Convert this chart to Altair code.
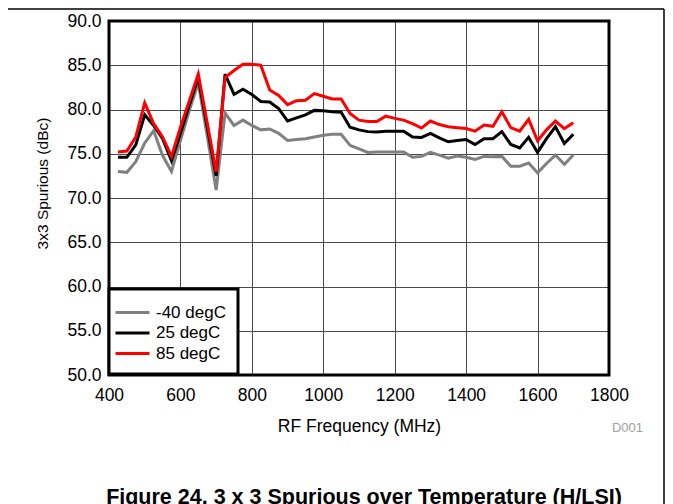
import altair as alt
import pandas as pd

# ---- data ----
freq = [425, 450, 475, 500, 525, 550, 575, 600, 625, 650, 675, 700, 725, 750, 775, 800,
        825, 850, 875, 900, 925, 950, 975, 1000, 1025, 1050, 1075, 1100, 1125, 1150, 1175,
        1200, 1225, 1250, 1275, 1300, 1325, 1350, 1375, 1400, 1425, 1450, 1475, 1500, 1525,
        1550, 1575, 1600, 1625, 1650, 1675, 1700]

t_m40 = [73.0, 72.9, 74.1, 76.2, 77.6, 74.8, 73.0, 76.5, 79.9, 83.0, 77.0, 70.9, 79.6, 78.2,
         78.8, 78.2, 77.7, 77.8, 77.3, 76.5, 76.6, 76.7, 76.9, 77.1, 77.2, 77.2, 75.95, 75.55,
         75.15, 75.2, 75.2, 75.2, 75.2, 74.6, 74.7, 75.15, 74.85, 74.5, 74.75, 74.6, 74.35,
         74.7, 74.65, 74.7, 73.6, 73.6, 73.95, 72.85, 73.9, 74.85, 73.8, 74.85]

t_25 = [74.6, 74.6, 76.0, 79.4, 78.2, 76.7, 74.2, 77.3, 80.5, 83.6, 78.0, 72.5, 84.0, 81.7,
        82.3, 81.7, 80.9, 80.85, 80.1, 78.7, 79.05, 79.4, 79.9, 79.85, 79.75, 79.7, 78.0, 77.7,
        77.5, 77.45, 77.55, 77.55, 77.55, 76.9, 76.85, 77.3, 76.8, 76.35, 76.5, 76.6, 76.05,
        76.7, 76.7, 77.5, 76.05, 75.65, 76.85, 75.15, 76.7, 78.05, 76.15, 77.2]

t_85 = [75.2, 75.3, 76.9, 80.75, 78.4, 76.9, 74.7, 78.0, 81.0, 84.0, 78.5, 72.95, 83.6, 84.4,
        85.1, 85.1, 85.0, 82.2, 81.6, 80.55, 81.0, 81.05, 81.8, 81.5, 81.2, 81.2, 79.55, 78.8,
        78.65, 78.65, 79.25, 79.0, 78.8, 78.4, 77.9, 78.7, 78.3, 78.05, 77.95, 77.85, 77.55,
        78.25, 78.1, 79.75, 77.95, 77.55, 78.9, 76.45, 77.7, 78.7, 77.85, 78.5]

series_names = ["-40 degC", "25 degC", "85 degC"]
series_colors = ["#808080", "#000000", "#ff0000"]
x_ticks = list(range(400, 1801, 100))
y_ticks = list(range(50, 91, 5))
x_title = "RF Frequency (MHz)"
y_title = "3x3 Spurious (dBc)"
caption = "Figure 24. 3 x 3 Spurious over Temperature (H/LSI)"
code_label = "D001"

rows = []
for name, vals in zip(series_names, [t_m40, t_25, t_85]):
    for f, v in zip(freq, vals):
        rows.append({"freq": f, "val": v, "series": name})
df = pd.DataFrame(rows)

FONT = "Liberation Sans"
W, H = 500, 354

x_scale = alt.Scale(domain=[400, 1800], nice=False)
y_scale = alt.Scale(domain=[50, 90], nice=False)

x_axis = alt.Axis(values=x_ticks, format="d",
                  labelExpr="datum.value % 200 == 0 ? datum.label : ''",
                  title=x_title, grid=True, ticks=False, domain=False, labelPadding=11,
                  labelFlush=False, labelOverlap=False, titleY=56, titleBaseline="alphabetic",
                  titleFontSize=17.5)
y_axis = alt.Axis(values=y_ticks, format=".1f", title=y_title, grid=True, ticks=False,
                  domain=False, labelPadding=8, labelFlush=False, labelOverlap=False,
                  titleX=-67, titleY=162, titleBaseline="middle", titleAngle=270,
                  titleFontSize=15.5)

lines = alt.Chart(df).mark_line(strokeWidth=3, clip=True).encode(
    x=alt.X("freq:Q", scale=x_scale, axis=x_axis),
    y=alt.Y("val:Q", scale=y_scale, axis=y_axis),
    color=alt.Color("series:N", sort=series_names,
                    scale=alt.Scale(domain=series_names, range=series_colors),
                    legend=alt.Legend(title=None, orient="none", legendX=0, legendY=268,
                                      fillColor="white", strokeColor="black", padding=12,
                                      symbolType="M-1.7,0H1.7", symbolStrokeWidth=3,
                                      symbolSize=400, labelFontSize=17, labelFont=FONT,
                                      labelColor="black", labelOffset=12, rowPadding=0.5)),
)

frame = alt.Chart(pd.DataFrame({"k": [0]})).mark_rect(
    filled=False, stroke="black", strokeWidth=3
).encode(x=alt.datum(400), x2=alt.datum(1800), y=alt.datum(50), y2=alt.datum(90))

top_line = alt.Chart(pd.DataFrame({"k": [0]})).mark_rule(color="black", strokeWidth=1.5).encode(
    x=alt.value(-101), x2=alt.value(555), y=alt.value(-12))
right_line = alt.Chart(pd.DataFrame({"k": [0]})).mark_rule(color="black", strokeWidth=1.5).encode(
    x=alt.value(555), y=alt.value(-12), y2=alt.value(490))

d001 = alt.Chart(pd.DataFrame({"t": [code_label]})).mark_text(
    font=FONT, fontSize=13, color="#a0a0a0", align="right", baseline="alphabetic"
).encode(text="t:N", x=alt.value(534), y=alt.value(411))

cap = alt.Chart(pd.DataFrame({"t": [caption]})).mark_text(
    font=FONT, fontSize=21.5, fontWeight="bold", color="black", align="center",
    baseline="alphabetic"
).encode(text="t:N", x=alt.value(255), y=alt.value(483))

chart = alt.layer(lines, frame, top_line, right_line, d001, cap).properties(
    width=W, height=H,
    autosize=alt.AutoSizeParams(type="none"),
    padding={"left": 101, "top": 13, "right": 56, "bottom": 135},
).configure_view(stroke=None).configure_axis(
    labelFont=FONT, titleFont=FONT, labelFontSize=17.5, titleFontSize=16,
    labelColor="black", titleColor="black", titleFontWeight="normal",
    gridColor="#4a4a4a", gridWidth=1, gridOpacity=1,
).configure_legend(strokeWidth=3)

chart.save("out.html", embed_options={"renderer": "svg", "actions": False})
